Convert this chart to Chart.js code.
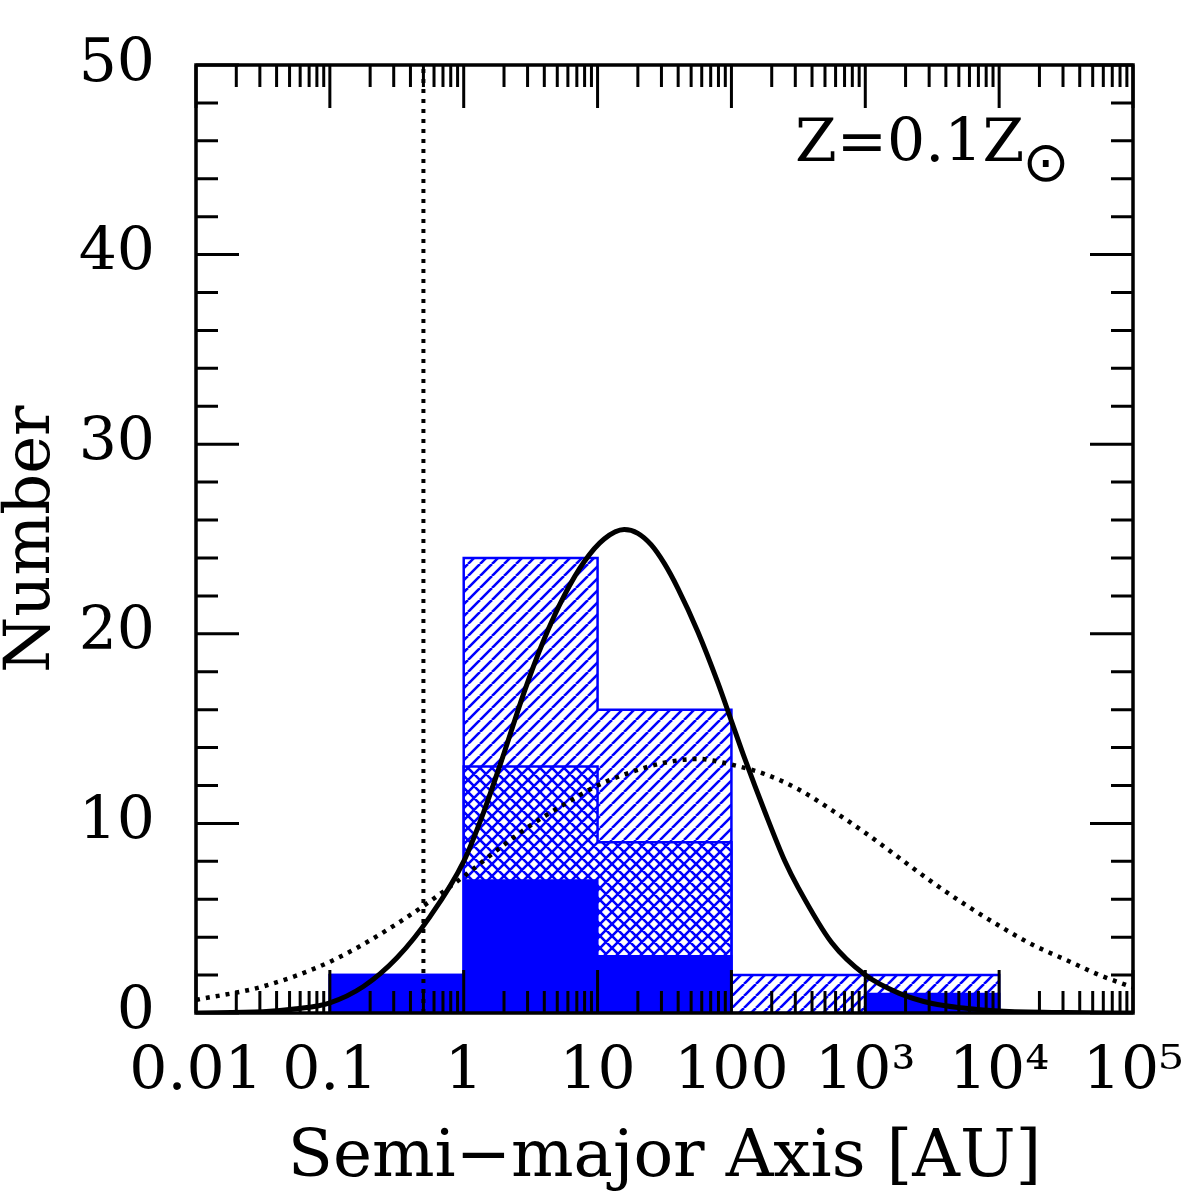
<!DOCTYPE html>
<html>
<head>
<meta charset="utf-8">
<script src="https://cdn.jsdelivr.net/npm/chart.js@4.4.0/dist/chart.umd.min.js"></script>
<style>
  html, body { margin: 0; padding: 0; background: #fff; }
</style>
</head>
<body>
<canvas id="histChart" width="1196" height="1196"></canvas>
<script>
// histogram bins (AU) and counts
var binEdges = [0.1, 1, 10, 100, 1000, 10000];
var allCounts = [2, 24, 16, 2, 2];
var crossCounts = [2, 13, 9, 0, 1];
var solidCounts = [2, 7, 3, 0, 1];

// solid curve
var fitX = [0.01, 0.0316, 0.0562, 0.1, 0.178, 0.316, 0.562, 1, 1.41, 2.0, 2.82, 3.98, 5.62, 7.94, 11.2, 15.8, 20, 25.1, 31.6, 39.8, 56.2, 79.4, 100, 126, 178, 251, 316, 562, 1000, 1778, 3162, 5623, 10000, 31623, 100000];
var fitY = [0, 0.06, 0.22, 0.54, 1.4, 2.9, 5.1, 8.0, 10.6, 13.7, 16.9, 19.7, 22.0, 23.8, 25.0, 25.5, 25.3, 24.7, 23.7, 22.4, 20.1, 17.4, 15.4, 13.4, 10.6, 8.0, 6.6, 3.7, 2.0, 1.05, 0.5, 0.25, 0.1, 0.02, 0];

// dotted curve
var wideX = [0.01, 0.0316, 0.1, 0.316, 1, 1.78, 3.16, 5.62, 10, 17.8, 31.6, 56.2, 100, 178, 316, 562, 1000, 1778, 3162, 5623, 10000, 17783, 31623, 56234, 100000];
var wideY = [0.69, 1.4, 2.7, 4.7, 7.2, 8.6, 9.9, 11.0, 12.0, 12.7, 13.2, 13.4, 13.1, 12.6, 11.8, 10.7, 9.5, 8.2, 6.9, 5.7, 4.6, 3.6, 2.8, 2.0, 1.35];

var limitX = 0.5;

var xTickValues = [0.01, 0.1, 1, 10, 100, 1000, 10000, 100000];
var xTickLabels = ['0.01', '0.1', '1', '10', '100', '10\u00B3', '10\u2074', '10\u2075'];
var yTickValues = [0, 10, 20, 30, 40, 50];
var yMinorStep = 2;

function stepPoints(counts) {
    var pts = [{x: binEdges[0], y: 0}];
    counts.forEach(function (c, i) {
        pts.push({x: binEdges[i], y: c});
        pts.push({x: binEdges[i + 1], y: c});
    });
    pts.push({x: binEdges[binEdges.length - 1], y: 0});
    return pts;
}

function toPoints(xs, ys) {
    return xs.map(function (x, i) { return {x: x, y: ys[i]}; });
}

function makeHatch(cross) {
    var s = 12;
    var c = document.createElement('canvas');
    c.width = s; c.height = s;
    var g = c.getContext('2d');
    g.fillStyle = '#fff';
    g.fillRect(0, 0, s, s);
    g.strokeStyle = '#0000ff';
    g.lineWidth = 2.6;
    g.beginPath();
    for (var k = -1; k <= 1; k++) {
        g.moveTo(k * s, s); g.lineTo(k * s + s, 0);
        if (cross) { g.moveTo(k * s, 0); g.lineTo(k * s + s, s); }
    }
    g.stroke();
    return g.createPattern(c, 'repeat');
}

var serif = "'DejaVu Serif', serif";

var frameTicks = {
    id: 'frameTicks',
    afterDatasetsDraw: function (chart) {
        var ctx = chart.ctx, a = chart.chartArea;
        var xs = chart.scales.x, ys = chart.scales.y;
        var major = 43, minor = 22;
        ctx.save();
        ctx.strokeStyle = '#000';
        ctx.lineWidth = 3;
        ctx.beginPath();
        xTickValues.forEach(function (v, i) {
            for (var m = 1; m < 10; m++) {
                if (m > 1 && i === xTickValues.length - 1) break;
                var px = xs.getPixelForValue(v * m);
                var len = m === 1 ? major : minor;
                ctx.moveTo(px, a.bottom); ctx.lineTo(px, a.bottom - len);
                ctx.moveTo(px, a.top); ctx.lineTo(px, a.top + len);
            }
        });
        for (var y = yTickValues[0]; y <= yTickValues[yTickValues.length - 1]; y += yMinorStep) {
            var py = ys.getPixelForValue(y);
            var l = yTickValues.indexOf(y) >= 0 ? major : minor;
            ctx.moveTo(a.left, py); ctx.lineTo(a.left + l, py);
            ctx.moveTo(a.right, py); ctx.lineTo(a.right - l, py);
        }
        ctx.stroke();
        ctx.lineWidth = 3.5;
        ctx.strokeRect(a.left, a.top, a.right - a.left, a.bottom - a.top);

        ctx.fillStyle = '#000';
        ctx.textBaseline = 'alphabetic';
        ctx.textAlign = 'left';
        ctx.font = '60px ' + serif;
        ctx.fillText('Z=0.1Z', 795, 161);
        ctx.font = "56px 'DejaVu Sans', sans-serif";
        ctx.textAlign = 'center';
        ctx.textBaseline = 'middle';
        ctx.fillText('\u2299', 1046, 166);
        ctx.restore();
    }
};

function noEdgePadding(scale) {
    scale.paddingLeft = 0;
    scale.paddingRight = 0;
    scale.paddingTop = 0;
    scale.paddingBottom = 0;
}

var ctx = document.getElementById('histChart').getContext('2d');
var histChart = new Chart(ctx, {
    type: 'line',
    data: {
        datasets: [{
            data: toPoints(fitX, fitY),
            borderColor: '#000',
            borderWidth: 5,
            cubicInterpolationMode: 'monotone',
            pointRadius: 0,
            fill: false,
            order: 0
        }, {
            data: toPoints(wideX, wideY),
            borderColor: '#000',
            borderWidth: 4.5,
            borderDash: [4, 6],
            cubicInterpolationMode: 'monotone',
            pointRadius: 0,
            fill: false,
            order: 1
        }, {
            data: [{x: limitX, y: 0}, {x: limitX, y: 50}],
            borderColor: '#000',
            borderWidth: 4,
            borderDash: [4, 6],
            pointRadius: 0,
            fill: false,
            order: 2
        }, {
            data: stepPoints(solidCounts),
            borderColor: '#0000ff',
            borderWidth: 2,
            backgroundColor: '#0000ff',
            pointRadius: 0,
            fill: 'origin',
            order: 3
        }, {
            data: stepPoints(crossCounts),
            borderColor: '#0000ff',
            borderWidth: 2.5,
            backgroundColor: makeHatch(true),
            pointRadius: 0,
            fill: 'origin',
            order: 4
        }, {
            data: stepPoints(allCounts),
            borderColor: '#0000ff',
            borderWidth: 2.5,
            backgroundColor: makeHatch(false),
            pointRadius: 0,
            fill: 'origin',
            order: 5
        }]
    },
    options: {
        responsive: false,
        animation: false,
        layout: {
            padding: {top: 65, right: 63, left: 0, bottom: 0}
        },
        plugins: {
            legend: {display: false},
            tooltip: {enabled: false}
        },
        scales: {
            x: {
                type: 'logarithmic',
                min: 0.01,
                max: 100000,
                grid: {display: false, drawTicks: false},
                border: {display: false},
                afterBuildTicks: function (scale) {
                    scale.ticks = xTickValues.map(function (v) { return {value: v}; });
                },
                afterFit: function (scale) {
                    scale.height = 183;
                    noEdgePadding(scale);
                },
                ticks: {
                    autoSkip: false,
                    maxRotation: 0,
                    padding: 24,
                    color: '#000',
                    font: {family: serif, size: 60},
                    callback: function (value) {
                        var i = xTickValues.indexOf(value);
                        return i >= 0 ? xTickLabels[i] : '';
                    }
                },
                title: {
                    display: true,
                    text: 'Semi\u2212major Axis [AU]',
                    color: '#000',
                    font: {family: serif, size: 66, lineHeight: 1},
                    padding: {top: 0, bottom: 4}
                }
            },
            y: {
                min: 0,
                max: 50,
                grid: {display: false, drawTicks: false},
                border: {display: false},
                afterBuildTicks: function (scale) {
                    scale.ticks = yTickValues.map(function (v) { return {value: v}; });
                },
                afterFit: function (scale) {
                    scale.width = 196;
                    noEdgePadding(scale);
                },
                ticks: {
                    padding: 41,
                    color: '#000',
                    font: {family: serif, size: 60}
                },
                title: {
                    display: true,
                    text: 'Number',
                    color: '#000',
                    font: {family: serif, size: 64, lineHeight: 1},
                    padding: {top: 0, bottom: 0}
                }
            }
        }
    },
    plugins: [frameTicks]
});
</script>
</body>
</html>
